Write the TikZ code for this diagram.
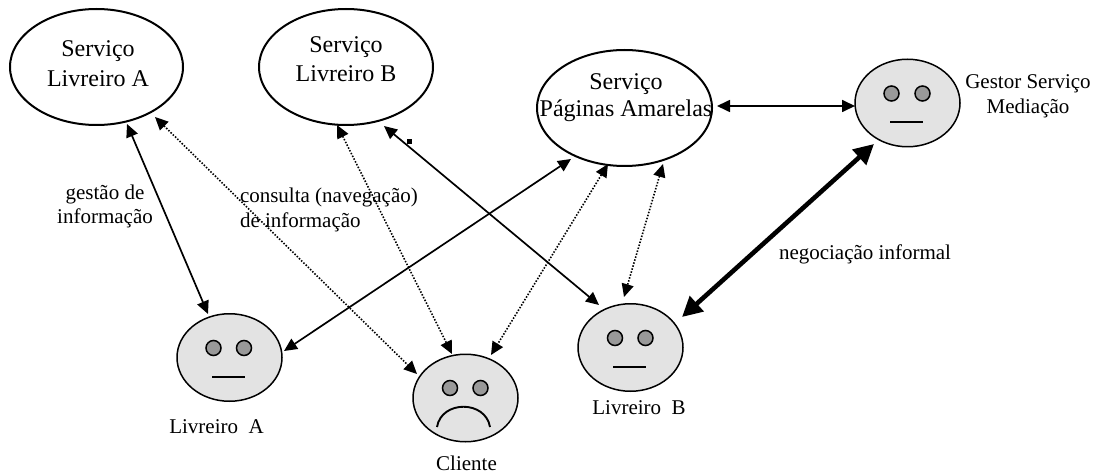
\documentclass[tikz,border=0pt]{standalone}
\usepackage{fontspec}
\setmainfont{Liberation Serif}
\usetikzlibrary{arrows.meta,shapes.geometric}
\newcommand{\twoline}[5]{\smash{\hspace*{#1}\makebox[0pt]{\raisebox{#3}{#2}}\makebox[0pt]{\raisebox{#5}{#4}}}}
\tikzset{
  svc/.style={ellipse,draw=black,line width=2pt,inner sep=0pt,outer sep=0pt,font=\fontsize{24}{28}\selectfont},
  face/.style={ellipse,draw=black,line width=1.5pt,fill=black!11,inner sep=0pt,outer sep=0pt,minimum width=105pt,minimum height=87.5pt},
  eye/.style={circle,draw=black,line width=1.5pt,fill=black!40,inner sep=0pt,outer sep=0pt,minimum size=15pt},
  mouth/.style={line width=1.7pt,draw=black},
  caption/.style={inner sep=0pt,outer sep=0pt,font=\fontsize{21}{24}\selectfont},
  link/.style={line width=1.7pt,{Triangle[length=13pt,width=12pt]}-{Triangle[length=13pt,width=12pt]}},
  dotlink/.style={link,line width=1.6pt,dash pattern=on 1.5pt off 1.6pt},
  heavy/.style={line width=4.6pt,{Triangle[length=20pt,width=20pt]}-{Triangle[length=20pt,width=20pt]}}
}
\begin{document}
\begin{tikzpicture}[x=1pt,y=-1pt]
\useasboundingbox (0,0) rectangle (1094,473);
% services
\node[svc,minimum width=173pt,minimum height=116pt] (sa) at (96.5,67) {\twoline{3pt}{Serviço}{10pt}{Livreiro A}{-20pt}};
\node[svc,minimum width=174pt,minimum height=116pt] (sb) at (346,67) {\twoline{0pt}{Serviço}{14pt}{Livreiro B}{-15pt}};
\node[svc,minimum width=175pt,minimum height=116pt] (sp) at (624.5,108) {\twoline{3pt}{Serviço}{18pt}{Páginas Amarelas}{-9pt}};
% faces
\node[face] (gm) at (907.5,103) {};
\node[eye] (gm1) at (891.5,93.5) {};
\node[eye] (gm2) at (922.5,93.5) {};
\draw[mouth] ([shift={(-17.5,19)}]gm.center) -- ([shift={(15,19)}]gm.center);
\node[face] (la) at (229.5,357.5) {};
\node[eye] (la1) at (213.5,348) {};
\node[eye] (la2) at (244,348) {};
\draw[mouth] ([shift={(-17.5,19.5)}]la.center) -- ([shift={(15,19.5)}]la.center);
\node[face] (lb) at (630.5,347.5) {};
\node[eye] (lb1) at (615,338) {};
\node[eye] (lb2) at (645.5,338) {};
\draw[mouth] ([shift={(-17.5,19.5)}]lb.center) -- ([shift={(15,19.5)}]lb.center);
\node[face] (cl) at (465.5,398) {};
\node[eye] (cl1) at (450,388) {};
\node[eye] (cl2) at (480.5,388) {};
\draw[mouth,line width=1.9pt] ([shift={(-28.5,29)}]cl.center) .. controls ([shift={(-24,2)}]cl.center) and ([shift={(20,2)}]cl.center) .. ([shift={(24.5,29)}]cl.center);
% captions
\node[caption,anchor=base] (tla) at (216.5,433) {Livreiro\ \ A};
\node[caption,anchor=base] (tcl) at (466.5,470) {Cliente};
\node[caption,anchor=base] (tlb) at (639,414.5) {Livreiro\ \ B};
\node[caption,anchor=base] (tg1) at (1028,89) {Gestor Serviço};
\node[caption,anchor=base] (tg2) at (1028,114) {Mediação};
\node[caption,anchor=base] (tg) at (105,200) {gestão de};
\node[caption,anchor=base] (ti) at (105,223) {informação};
\node[caption,anchor=base west] (tc) at (240,203) {consulta (navegação)};
\node[caption,anchor=base west] (td) at (240,227) {de informação};
\node[caption,anchor=base] (tn) at (865,259) {negociação informal};
% connectors
\draw[link] ([shift={(30.5,57)}]sa.center) -- ([shift={(-21.5,-43.5)}]la.center);
\draw[dotlink] ([shift={(58.5,50)}]sa.center) -- ([shift={(-48.5,-24)}]cl.center);
\draw[dotlink] ([shift={(-9,58)}]sb.center) -- ([shift={(-13.5,-44)}]cl.center);
\draw[link] ([shift={(38,59)}]sb.center) -- ([shift={(-31.5,-42.5)}]lb.center);
\draw[link] ([shift={(54.5,-6.5)}]la.center) -- ([shift={(-53.5,51)}]sp.center);
\draw[dotlink] ([shift={(-16.5,56)}]sp.center) -- ([shift={(25.5,-43)}]cl.center);
\draw[dotlink] ([shift={(38.5,56)}]sp.center) -- ([shift={(-6.5,-50.5)}]lb.center);
\draw[link] ([shift={(92.5,-2)}]sp.center) -- ([shift={(-52.5,3)}]gm.center);
\draw[heavy] ([shift={(51.5,-30.5)}]lb.center) -- ([shift={(-33.5,41)}]gm.center);
\node[fill=black,inner sep=0pt,minimum size=5pt] (dot) at (409.5,142) {};
\end{tikzpicture}
\end{document}
